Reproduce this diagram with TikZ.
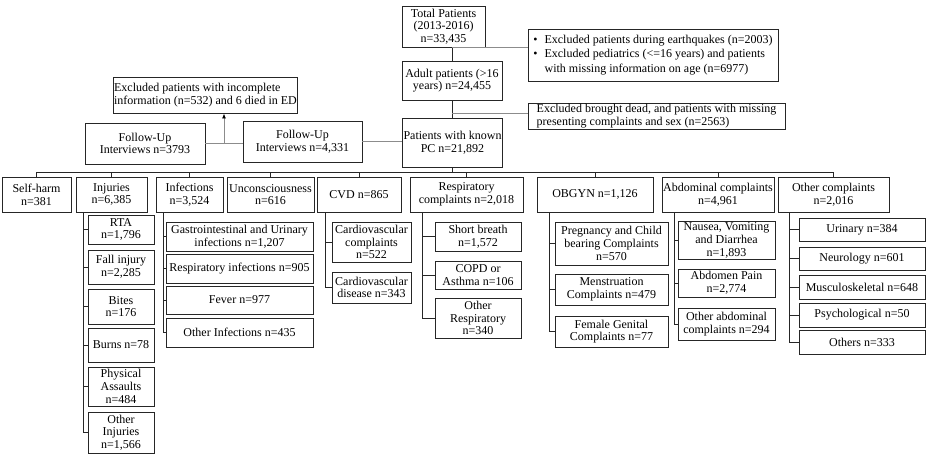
\documentclass[tikz,border=0pt]{standalone}
\usepackage{fontspec}
\setmainfont{Liberation Serif}
\usetikzlibrary{arrows.meta}
\tikzset{
  box/.style={draw=black!85, line width=0.9pt, align=center, inner sep=1pt,
    font=\fontsize{12}{12.7}\selectfont},
  tree/.style={draw=black!85, line width=0.9pt},
  feed/.style={draw=black!45, line width=0.9pt},
}
\newcommand\bx[7][]{\node[box,#1, minimum width={(#5-#3)*1pt}, minimum height={(#6-#4)*1pt}] (#2) at ({(#3+#5)/2},{(#4+#6)/2}) {#7};}
\begin{document}
\begin{tikzpicture}[x=1pt,y=-1pt]
\fill[white] (0,0) rectangle (931,460);
\useasboundingbox (0,0) rectangle (931,460);
% top chain
\bx{Total}{402}{6}{485}{47}{Total Patients\\(2013-2016)\\n=33,435}
\bx{Adult}{402}{61}{502}{100}{Adult patients (>16\\years) n=24,455}
\bx{PC}{403}{118}{502}{167}{Patients with known\\PC n=21,892}
\bx[align=left, font=\fontsize{12}{14.3}\selectfont]{excl1}{528}{29}{778}{81}{%
  \begin{tabular}{@{}l@{\hspace{7pt}}l@{}}\textbullet & Excluded patients during earthquakes (n=2003)\\
  \textbullet & Excluded pediatrics (<=16 years) and patients\\
   & with missing information on age (n=6977)\end{tabular}}
\bx[align=left]{excl2}{528}{103}{785}{129}{Excluded brought dead, and patients with missing\\presenting complaints and sex (n=2563)}
\bx[align=left]{excl3}{118}{77}{293}{113}{Excluded patients with incomplete\\information (n=532) and 6 died in ED}
\bx{FU1}{85}{123}{205}{164}{Follow-Up\\Interviews n=3793}
\bx{FU2}{243}{121}{362}{162}{Follow-Up\\Interviews n=4,331}
% main row
\bx{selfharm}{2}{177}{71}{212}{Self-harm\\n=381}
\bx{inj}{76}{177}{147}{212}{Injuries\\n=6,385}
\bx{infe}{156}{177}{223}{212}{Infections\\n=3,524}
\bx{uncon}{227}{177}{314}{212}{Unconsciousness\\n=616}
\bx{cvd}{317}{177}{401}{212}{CVD n=865}
\bx{resp}{410}{177}{523}{212}{Respiratory\\complaints n=2,018}
\bx{obgyn}{537}{177}{653}{212}{OBGYN n=1,126}
\bx{abd}{662}{177}{774}{212}{Abdominal complaints\\n=4,961}
\bx{oth}{778}{177}{889}{212}{Other complaints\\n=2,016}
% injuries
\bx{rta}{88}{215}{154}{244}{RTA\\n=1,796}
\bx{fall}{88}{250}{154}{284}{Fall injury\\n=2,285}
\bx{bites}{88}{289}{154}{324}{Bites\\n=176}
\bx{burns}{88}{328}{154}{362}{Burns n=78}
\bx{phys}{88}{367}{154}{406}{Physical\\Assaults\\n=484}
\bx{othinj}{88}{412}{154}{453}{Other\\Injuries\\n=1,566}
% infections
\bx{gi}{166}{222}{313}{251}{Gastrointestinal and Urinary\\infections n=1,207}
\bx{rinf}{166}{254}{313}{283}{Respiratory infections n=905}
\bx{fever}{166}{286}{313}{314}{Fever n=977}
\bx{othinf}{166}{318}{313}{347}{Other Infections n=435}
% CVD
\bx{cvc}{332}{222}{411}{262}{Cardiovascular\\complaints\\n=522}
\bx{cvdd}{332}{272}{411}{303}{Cardiovascular\\disease n=343}
% respiratory
\bx{sb}{435}{222}{521}{251}{Short breath\\n=1,572}
\bx{copd}{435}{261}{521}{289}{COPD or\\Asthma n=106}
\bx{othr}{435}{298}{521}{338}{Other\\Respiratory\\n=340}
% OBGYN
\bx{preg}{555}{222}{668}{265}{Pregnancy and Child\\bearing Complaints\\n=570}
\bx{mens}{555}{274}{668}{305}{Menstruation\\Complaints n=479}
\bx{fem}{555}{316}{668}{347}{Female Genital\\Complaints n=77}
% abdominal
\bx{nvd}{678}{222}{775}{259}{Nausea, Vomiting\\and Diarrhea\\n=1,893}
\bx{ap}{678}{269}{775}{297}{Abdomen Pain\\n=2,774}
\bx{oab}{678}{308}{775}{340}{Other abdominal\\complaints n=294}
% other
\bx{uri}{799}{218}{925}{241}{Urinary n=384}
\bx{neu}{799}{247}{925}{270}{Neurology n=601}
\bx{msk}{799}{275}{925}{299}{Musculoskeletal n=648}
\bx{psy}{799}{303}{925}{327}{Psychological n=50}
\bx{others}{799}{330}{925}{354}{Others n=333}
% top connectors
\draw[tree] (Total.south -| Adult.north) -- (Adult.north);
\draw[feed] (Total.south -| Adult.north) -- (Total.south -| excl1.west);
\draw[tree] (Adult.south) -- (Adult.south |- PC.north);
\coordinate (j2) at (452,113);
\draw[feed] (j2) -- (j2 -| excl2.west);
\draw[feed] (FU2.east) -- (FU2.east -| PC.west);
\draw[feed] (FU1.east) -- (FU1.east -| FU2.west);
\coordinate (af) at (224,143.5);
\draw[feed, -{Latex[length=5pt,width=4pt,color=black]}] (af) -- (af |- excl3.south);
% bus
\coordinate (bus) at (0,172);
\draw[tree] (PC.south) -- (PC.south |- bus);
\draw[tree] (selfharm.north |- bus) -- (oth.north |- bus);
\foreach \n in {selfharm,inj,infe,uncon,cvd,resp,obgyn,abd,oth}
  \draw[tree] (\n.north) -- (\n.north |- bus);
% sub spines
\coordinate (injT) at (83,212);
\foreach \c in {rta,fall,bites,burns,phys,othinj} \draw[tree] (injT) |- (\c.west);
\coordinate (infT) at (163,212);
\foreach \c in {gi,rinf,fever,othinf} \draw[tree] (infT) |- (\c.west);
\coordinate (cvdT) at (325,212);
\foreach \c in {cvc,cvdd} \draw[tree] (cvdT) |- (\c.west);
\coordinate (resT) at (422,212);
\foreach \c in {sb,copd,othr} \draw[tree] (resT) |- (\c.west);
\coordinate (obT) at (549,212);
\foreach \c in {preg,mens,fem} \draw[tree] (obT) |- (\c.west);
\coordinate (abT) at (674,212);
\foreach \c in {nvd,ap,oab} \draw[tree] (abT) |- (\c.west);
\coordinate (otT) at (789,212);
\foreach \c in {uri,neu,msk,psy,others} \draw[tree] (otT) |- (\c.west);
\end{tikzpicture}
\end{document}
